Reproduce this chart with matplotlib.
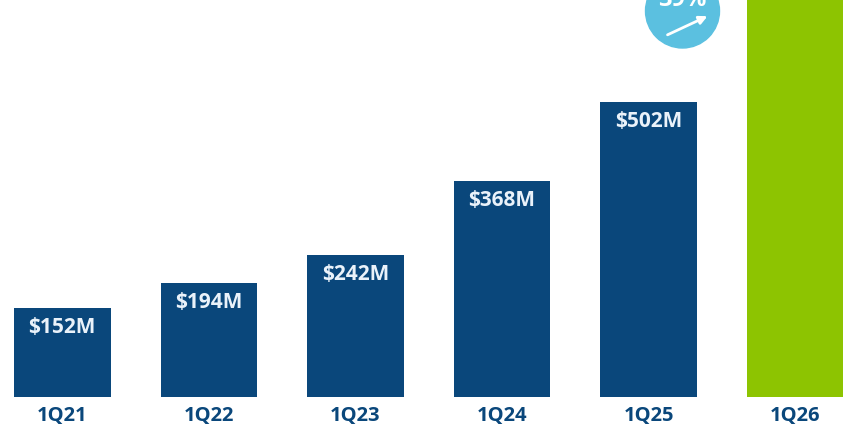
import matplotlib.pyplot as plt
import matplotlib.patches as mpatches

# quarterly figures ($M)
quarters = ["1Q21", "1Q22", "1Q23", "1Q24", "1Q25", "1Q26"]
revenue = [152, 194, 242, 368, 502, 697]
growth_label = "39%"

NAVY = "#0A477B"
GREEN = "#8DC401"
SKY = "#5BC0E0"
LABEL_WHITE = "#EAF2FA"

plt.rcParams['font.family'] = ['Open Sans', 'DejaVu Sans']

fig = plt.figure(figsize=(8.43, 4.30), dpi=100)
ax = fig.add_axes([0, 0, 1, 1])

colors = [NAVY] * (len(quarters) - 1) + [GREEN]
xs = list(range(len(quarters)))
bars = ax.bar(xs, revenue, width=0.658, color=colors, zorder=2)

ax.set_xlim(-0.425, 5.327)
ax.set_ylim(-56.1, 675.4)
ax.axis("off")

# value labels inside the top of each bar
for x, v in zip(xs, revenue):
    ax.annotate(f"${v}M", xy=(x, v), xytext=(0, -20), textcoords="offset pixels",
                ha="center", va="center", color=LABEL_WHITE,
                fontsize=15, fontweight="bold", zorder=3)

# quarter labels under the bars
for x, q in zip(xs, quarters):
    ax.annotate(q, xy=(x, 0), xytext=(0, -19), textcoords="offset pixels",
                ha="center", va="center", color=NAVY,
                fontsize=14.5, fontweight="bold")

# growth badge
badge = mpatches.Ellipse((682.5 / 843, 1 - 11 / 430), 74 / 843, 74 / 430,
                         transform=ax.transAxes, color=SKY, zorder=4,
                         clip_on=False)
ax.add_patch(badge)
ax.text(682.5 / 843, 1 - 0.5 / 430, growth_label, transform=ax.transAxes,
        ha="center", va="center", color="white", fontsize=17,
        fontweight="bold", zorder=5)
ax.annotate("", xy=(710 / 843, 1 - 15 / 430), xytext=(665 / 843, 1 - 36 / 430),
            xycoords=ax.transAxes, textcoords=ax.transAxes,
            arrowprops=dict(arrowstyle="-|>", color="white", lw=2,
                            mutation_scale=12), zorder=5)

fig.savefig("out.png", dpi=100)
